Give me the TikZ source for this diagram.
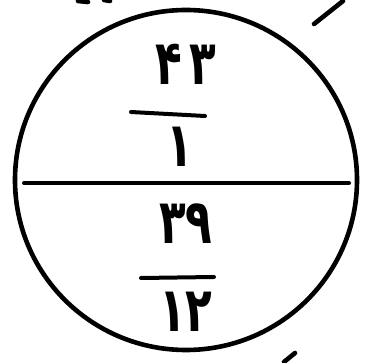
\documentclass[tikz,border=0pt]{standalone}
\usepackage{fontspec}
\usepackage{graphicx}
\newfontfamily\fa[Script=Arabic]{DejaVu Sans}
\newcommand{\tallfa}[1]{\scalebox{0.95}[1.35]{#1}}
\begin{document}
\begin{tikzpicture}[x=1pt,y=-1pt,
  ink/.style={line width=4.6pt,line cap=round,black},
  thinink/.style={line width=4pt,line cap=round,black},
  digits/.style={font=\fa\bfseries\fontsize{46}{46}\selectfont,inner sep=0pt}]
\useasboundingbox (0,0) rectangle (375,363);
\coordinate (c) at (186,180);
\draw[ink] (c) ellipse [x radius=171,y radius=170];
\coordinate (hl) at (24,183);
\coordinate (hr) at (349,183);
\draw[thinink] (hl) -- (hr);
\node[digits] (n1) at (186,64) {\tallfa{۴\,۳}};
\coordinate (b1l) at (131,112);
\coordinate (b1r) at (205,116);
\draw[thinink] (b1l) -- (b1r);
\node[digits] (d1) at (180,147) {\tallfa{۱}};
\node[digits] (n2) at (186,224) {\tallfa{۳۹}};
\coordinate (b2l) at (141,278);
\coordinate (b2r) at (214,277);
\draw[thinink] (b2l) -- (b2r);
\node[digits] (d2) at (186,312) {\tallfa{۱۲}};
% cut-off strokes at the edges
\coordinate (s1a) at (314,24);
\coordinate (s1b) at (343,1);
\draw[ink] (s1a) -- (s1b);
\coordinate (s2a) at (284,362);
\coordinate (s2b) at (295,353);
\draw[ink] (s2a) -- (s2b);
\coordinate (s3a) at (78,1);
\coordinate (s3b) at (88,2);
\draw[ink] (s3a) -- (s3b);
\coordinate (s4a) at (104,0);
\coordinate (s4b) at (110,1);
\draw[ink] (s4a) -- (s4b);
\end{tikzpicture}
\end{document}
